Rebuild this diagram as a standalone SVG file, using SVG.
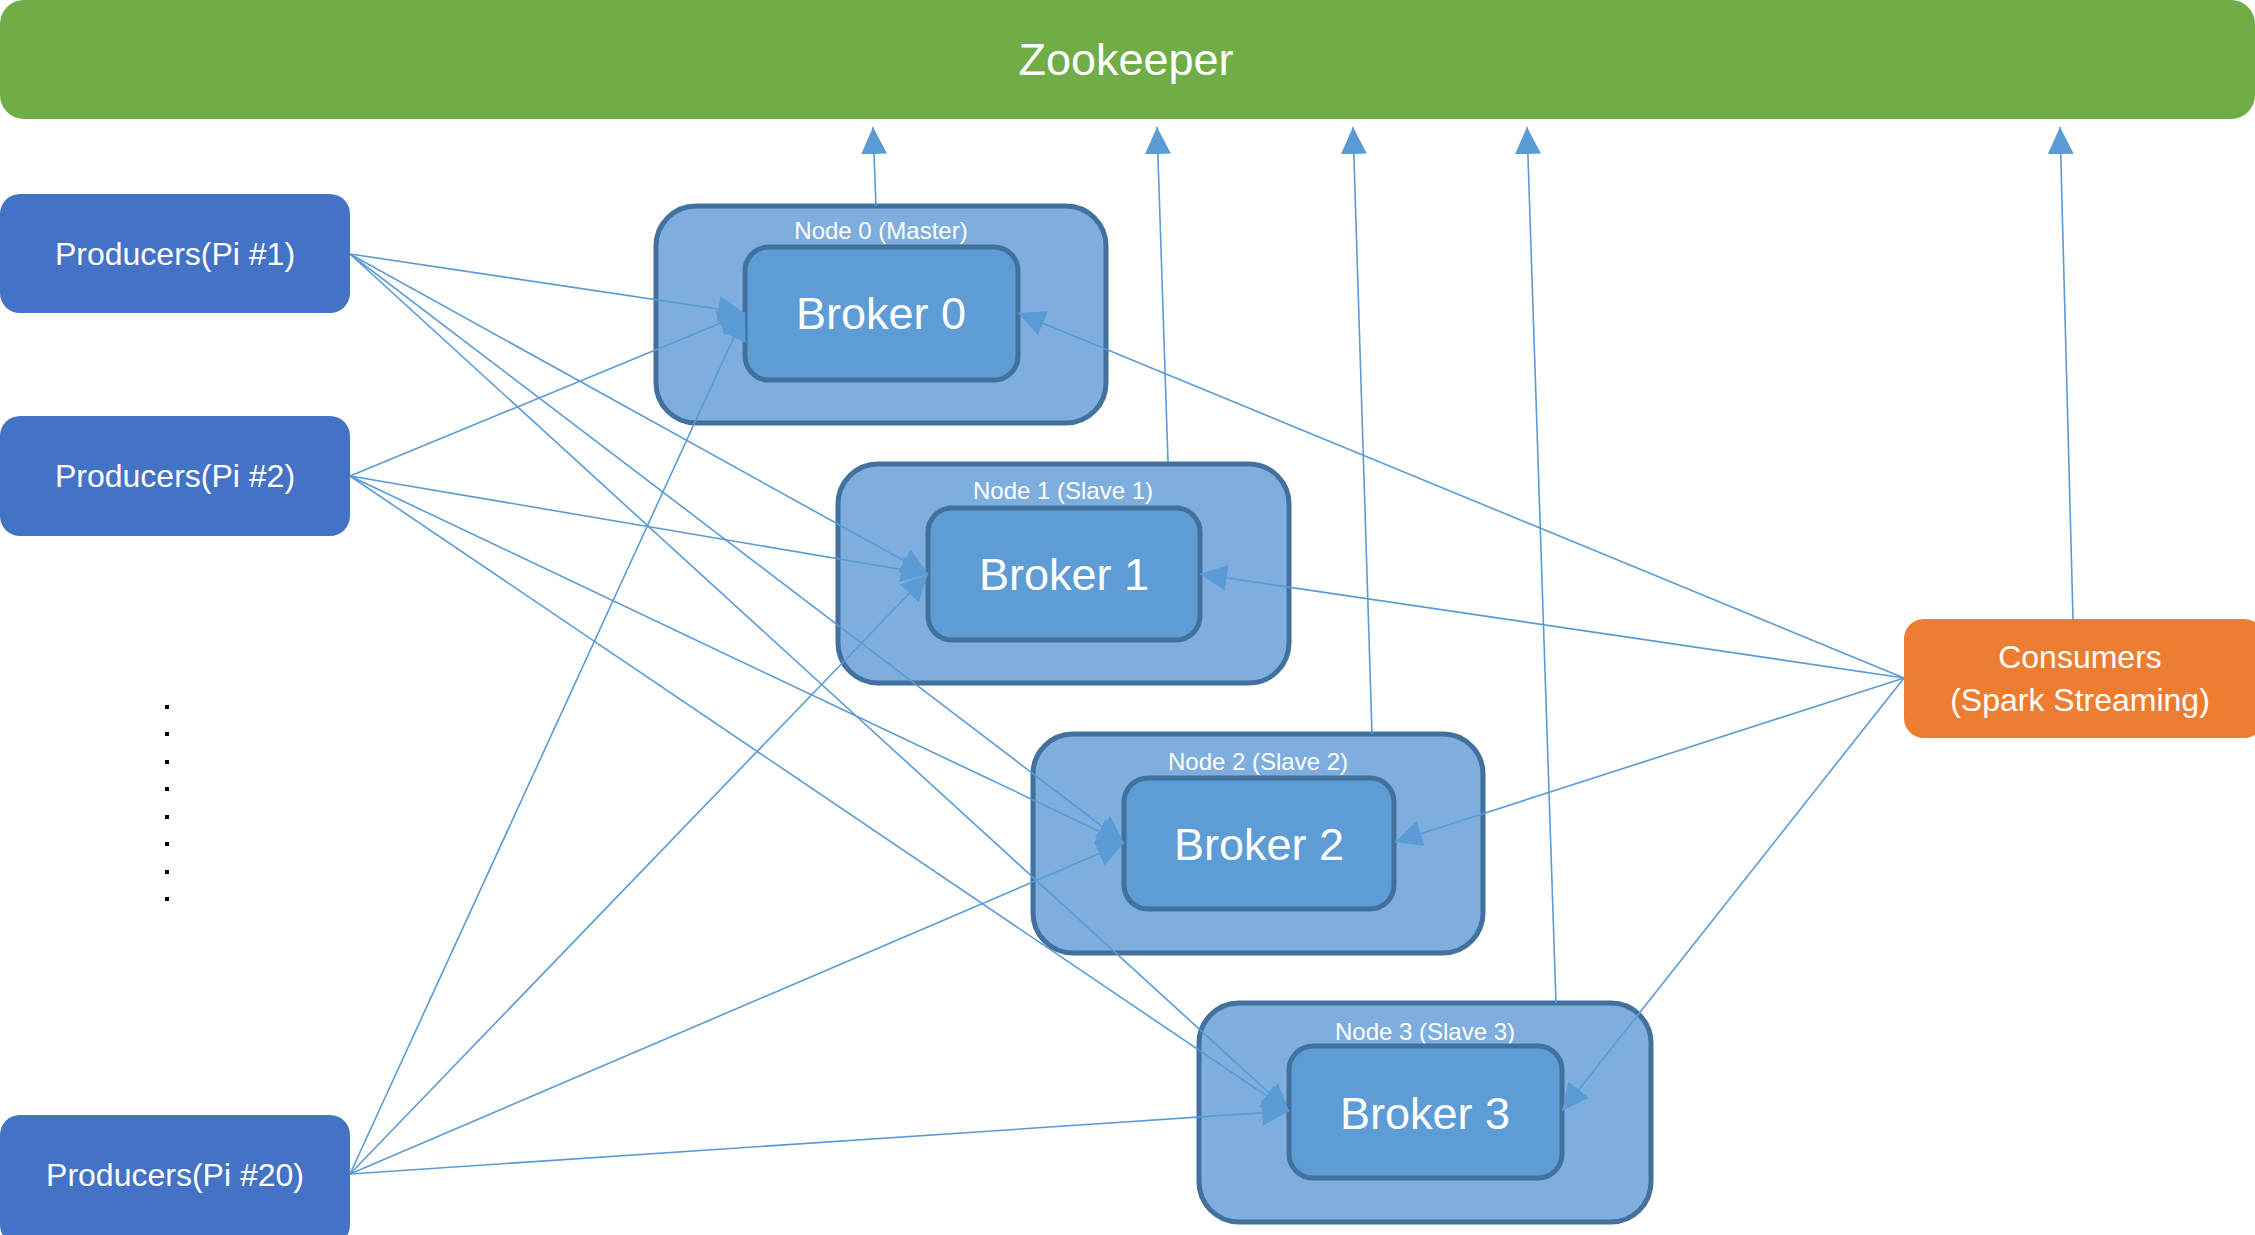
<svg xmlns="http://www.w3.org/2000/svg" width="2255" height="1235" viewBox="0 0 2255 1235">
<style>
text{font-family:"Liberation Sans",Arial,sans-serif;fill:#fff;text-anchor:middle}
.outer{fill:#7DAEDE;stroke:#41719C;stroke-width:5}
.inner{fill:#5E9CD5;stroke:#41719C;stroke-width:5}
.prod{fill:#4472C4}
.lab{font-size:24px}
.brk{font-size:45px}
.big{font-size:32px}
.conn line{stroke:#5B9BD5;stroke-width:1.6;marker-end:url(#ah)}
</style>
<defs>
<marker id="ah" markerUnits="userSpaceOnUse" viewBox="0 0 27 26" markerWidth="27" markerHeight="26" refX="27" refY="13" orient="auto">
<path d="M0,0 L27,13 L0,26 z" fill="#5B9BD5"/>
</marker>
</defs>
<rect width="2255" height="1235" fill="#fff"/>
<g id="zookeeper">
<rect x="0" y="0" width="2255" height="119" rx="24" fill="#70AD47"/>
<text x="1126" y="75" style="font-size:45px">Zookeeper</text>
</g>
<g id="producer1">
<rect class="prod" x="0" y="194" width="350" height="119" rx="20"/>
<text class="big" x="175" y="265">Producers(Pi #1)</text>
</g>
<g id="producer2">
<rect class="prod" x="0" y="416" width="350" height="120" rx="20"/>
<text class="big" x="175" y="487">Producers(Pi #2)</text>
</g>
<g id="producer20">
<rect class="prod" x="0" y="1115" width="350" height="130" rx="20"/>
<text class="big" x="175" y="1186">Producers(Pi #20)</text>
</g>
<g id="dots" fill="#000">
<rect x="165" y="705" width="4" height="4"/>
<rect x="165" y="732" width="4" height="4"/>
<rect x="165" y="760" width="4" height="4"/>
<rect x="165" y="787" width="4" height="4"/>
<rect x="165" y="815" width="4" height="4"/>
<rect x="165" y="842" width="4" height="4"/>
<rect x="165" y="870" width="4" height="4"/>
<rect x="165" y="897" width="4" height="4"/>
</g>
<g id="node0">
<rect class="outer" x="656" y="206" width="450" height="217" rx="40"/>
<text class="lab" x="881" y="239">Node 0 (Master)</text>
<rect class="inner" x="745" y="247" width="273" height="133" rx="24"/>
<text class="brk" x="881" y="329">Broker 0</text>
</g>
<g id="node1">
<rect class="outer" x="838" y="464" width="451" height="219" rx="40"/>
<text class="lab" x="1063" y="499">Node 1 (Slave 1)</text>
<rect class="inner" x="928" y="508" width="272" height="132" rx="24"/>
<text class="brk" x="1064" y="590">Broker 1</text>
</g>
<g id="node2">
<rect class="outer" x="1033" y="734" width="450" height="219" rx="40"/>
<text class="lab" x="1258" y="770">Node 2 (Slave 2)</text>
<rect class="inner" x="1124" y="778" width="270" height="131" rx="24"/>
<text class="brk" x="1259" y="860">Broker 2</text>
</g>
<g id="node3">
<rect class="outer" x="1199" y="1003" width="452" height="219" rx="40"/>
<text class="lab" x="1425" y="1040">Node 3 (Slave 3)</text>
<rect class="inner" x="1289" y="1046" width="273" height="132" rx="24"/>
<text class="brk" x="1425" y="1129">Broker 3</text>
</g>
<g id="consumers">
<rect x="1904" y="619" width="360" height="119" rx="20" fill="#ED7D31"/>
<text class="big" x="2080" y="668">Consumers</text>
<text class="big" x="2080" y="711">(Spark Streaming)</text>
</g>
<g id="connectors" class="conn">
<line x1="876" y1="206" x2="873" y2="127"/>
<line x1="1168" y1="462" x2="1157" y2="127"/>
<line x1="1372" y1="734" x2="1353" y2="127"/>
<line x1="1556" y1="1003" x2="1527" y2="127"/>
<line x1="2073" y1="619" x2="2060" y2="127"/>
<line x1="350" y1="254" x2="745" y2="313"/>
<line x1="350" y1="254" x2="928" y2="574"/>
<line x1="350" y1="254" x2="1124" y2="843"/>
<line x1="350" y1="254" x2="1289" y2="1111"/>
<line x1="350" y1="476" x2="745" y2="313"/>
<line x1="350" y1="476" x2="928" y2="574"/>
<line x1="350" y1="476" x2="1124" y2="843"/>
<line x1="350" y1="476" x2="1289" y2="1111"/>
<line x1="350" y1="1174" x2="745" y2="313"/>
<line x1="350" y1="1174" x2="928" y2="574"/>
<line x1="350" y1="1174" x2="1124" y2="843"/>
<line x1="350" y1="1174" x2="1289" y2="1111"/>
<line x1="1904" y1="678" x2="1018" y2="313"/>
<line x1="1904" y1="678" x2="1200" y2="574"/>
<line x1="1904" y1="678" x2="1395" y2="842"/>
<line x1="1904" y1="678" x2="1562" y2="1111"/>
</g>
</svg>
